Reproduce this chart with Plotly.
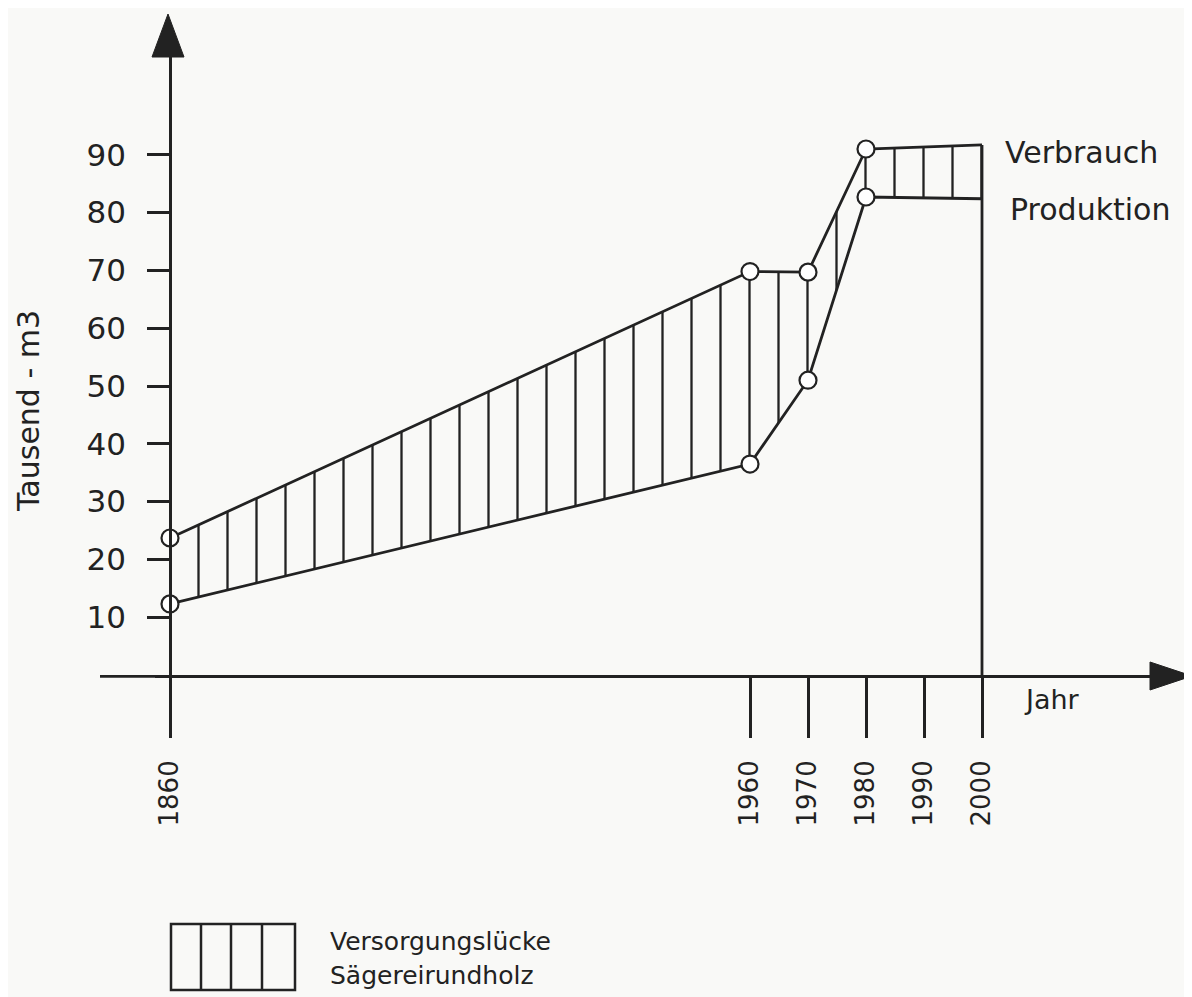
import plotly.graph_objects as go

# Werte (Tausend m3)
jahre = [1860, 1960, 1970, 1980, 2000]
verbrauch = [23.7, 69.8, 69.7, 91.0, 91.7]
produktion = [12.3, 36.5, 51.0, 82.7, 82.4]

y_ticks = [10, 20, 30, 40, 50, 60, 70, 80, 90]
x_ticks = [1860, 1960, 1970, 1980, 1990, 2000]

OFF = 8  # Seitenrand des Browsers
W, H = 1192 - OFF, 997 - OFF
L, T = 155 - OFF, 40 - OFF
BOTTOM = 675 - OFF          # Pixelzeile der x-Achse
B = H - BOTTOM
PX_JAHR = 5.8
PX_EINH = 5.78
INK = '#222'
FONT = 'DejaVu Sans'

plot_w = W - L
plot_h = H - T - B
x_min = 1860 - (170 - OFF - L) / PX_JAHR
x_max = x_min + plot_w / PX_JAHR
y_max = plot_h / PX_EINH


def px(x):
    # Pixel im Referenzbild -> paper
    return (x - OFF - L) / plot_w


def py(y):
    return (BOTTOM - (y - OFF)) / plot_h


fig = go.Figure()

fig.add_trace(go.Scatter(
    x=jahre, y=produktion, mode='lines', name='Produktion',
    line=dict(color=INK, width=2.8), showlegend=False, cliponaxis=False))
fig.add_trace(go.Scatter(
    x=jahre, y=verbrauch, mode='lines', name='Verbrauch',
    line=dict(color=INK, width=2.8), fill='tonexty', fillcolor='rgba(0,0,0,0)',
    fillpattern=dict(shape='|', size=29, solidity=0.08, fgcolor=INK,
                     bgcolor='rgba(0,0,0,0)', fillmode='replace'),
    showlegend=False, cliponaxis=False))
# rechte Begrenzung bei 2000
fig.add_trace(go.Scatter(
    x=[jahre[-1], jahre[-1]], y=[0, verbrauch[-1]], mode='lines',
    line=dict(color=INK, width=2.8), showlegend=False, cliponaxis=False))
# Messpunkte (ohne 2000)
fig.add_trace(go.Scatter(
    x=jahre[:-1] + jahre[:-1], y=verbrauch[:-1] + produktion[:-1], mode='markers',
    marker=dict(size=17, color='white', line=dict(color=INK, width=2.2)),
    showlegend=False, cliponaxis=False))

shapes = [
    # x-Achse nach links verlaengern
    dict(type='line', xref='paper', yref='paper', x0=px(100), x1=px(L + OFF), y0=py(676.4), y1=py(676.4),
         line=dict(color=INK, width=2.8)),
    # Pfeilspitzen
    dict(type='path', xref='paper', yref='paper', fillcolor=INK, line=dict(color=INK, width=1),
         path=f'M{px(152)},{py(57)} L{px(184)},{py(57)} L{px(168)},{py(14)} Z'),
    dict(type='path', xref='paper', yref='paper', fillcolor=INK, line=dict(color=INK, width=1),
         path=f'M{px(1150)},{py(662)} L{px(1150)},{py(690)} L{px(1192)},{py(676)} Z'),
    # Legendenkasten
    dict(type='rect', xref='paper', yref='paper', x0=px(171), x1=px(295), y0=py(924), y1=py(990),
         line=dict(color=INK, width=2.5)),
]
for lx in [201, 231, 262]:
    shapes.append(dict(type='line', xref='paper', yref='paper', x0=px(lx), x1=px(lx),
                       y0=py(924), y1=py(990), line=dict(color=INK, width=2.5)))

texts = [
    ('Verbrauch', 1003, 152, 'left', 30, 0),
    ('Produktion', 1008, 210, 'left', 30, 0),
    ('Jahr', 1022, 699, 'left', 27, 0),
    ('Tausend - m3', 28, 411, 'center', 30, -90),
    ('Versorgungslücke', 328, 941, 'left', 25, 0),
    ('Sägereirundholz', 328, 976, 'left', 25, 0),
]
annotations = [
    dict(text=t, xref='paper', yref='paper', x=px(x), y=py(y), xanchor=a, yanchor='middle',
         showarrow=False, textangle=ang, font=dict(family=FONT, size=s, color=INK))
    for t, x, y, a, s, ang in texts
]

fig.update_layout(
    width=W, height=H,
    margin=dict(l=L, r=0, t=T, b=B, pad=0),
    paper_bgcolor='#f9f9f7', plot_bgcolor='rgba(0,0,0,0)',
    font=dict(family=FONT, color=INK),
    shapes=shapes, annotations=annotations,
    xaxis=dict(range=[x_min, x_max], showgrid=False, zeroline=False, showline=True,
               linecolor=INK, linewidth=2.8, tickmode='array', tickvals=x_ticks,
               ticks='outside', ticklen=60, tickwidth=2.8, tickcolor=INK,
               tickangle=-90, ticklabelstandoff=12, tickfont=dict(size=26, color=INK)),
    yaxis=dict(range=[0, y_max], showgrid=False, zeroline=False, showline=True,
               linecolor=INK, linewidth=2.8, anchor='free', position=px(170),
               tickmode='array', tickvals=y_ticks, ticks='outside', ticklen=22,
               tickwidth=2.8, tickcolor=INK, ticklabelstandoff=15,
               tickfont=dict(size=31, color=INK)),
)

fig.write_html("out.html")
